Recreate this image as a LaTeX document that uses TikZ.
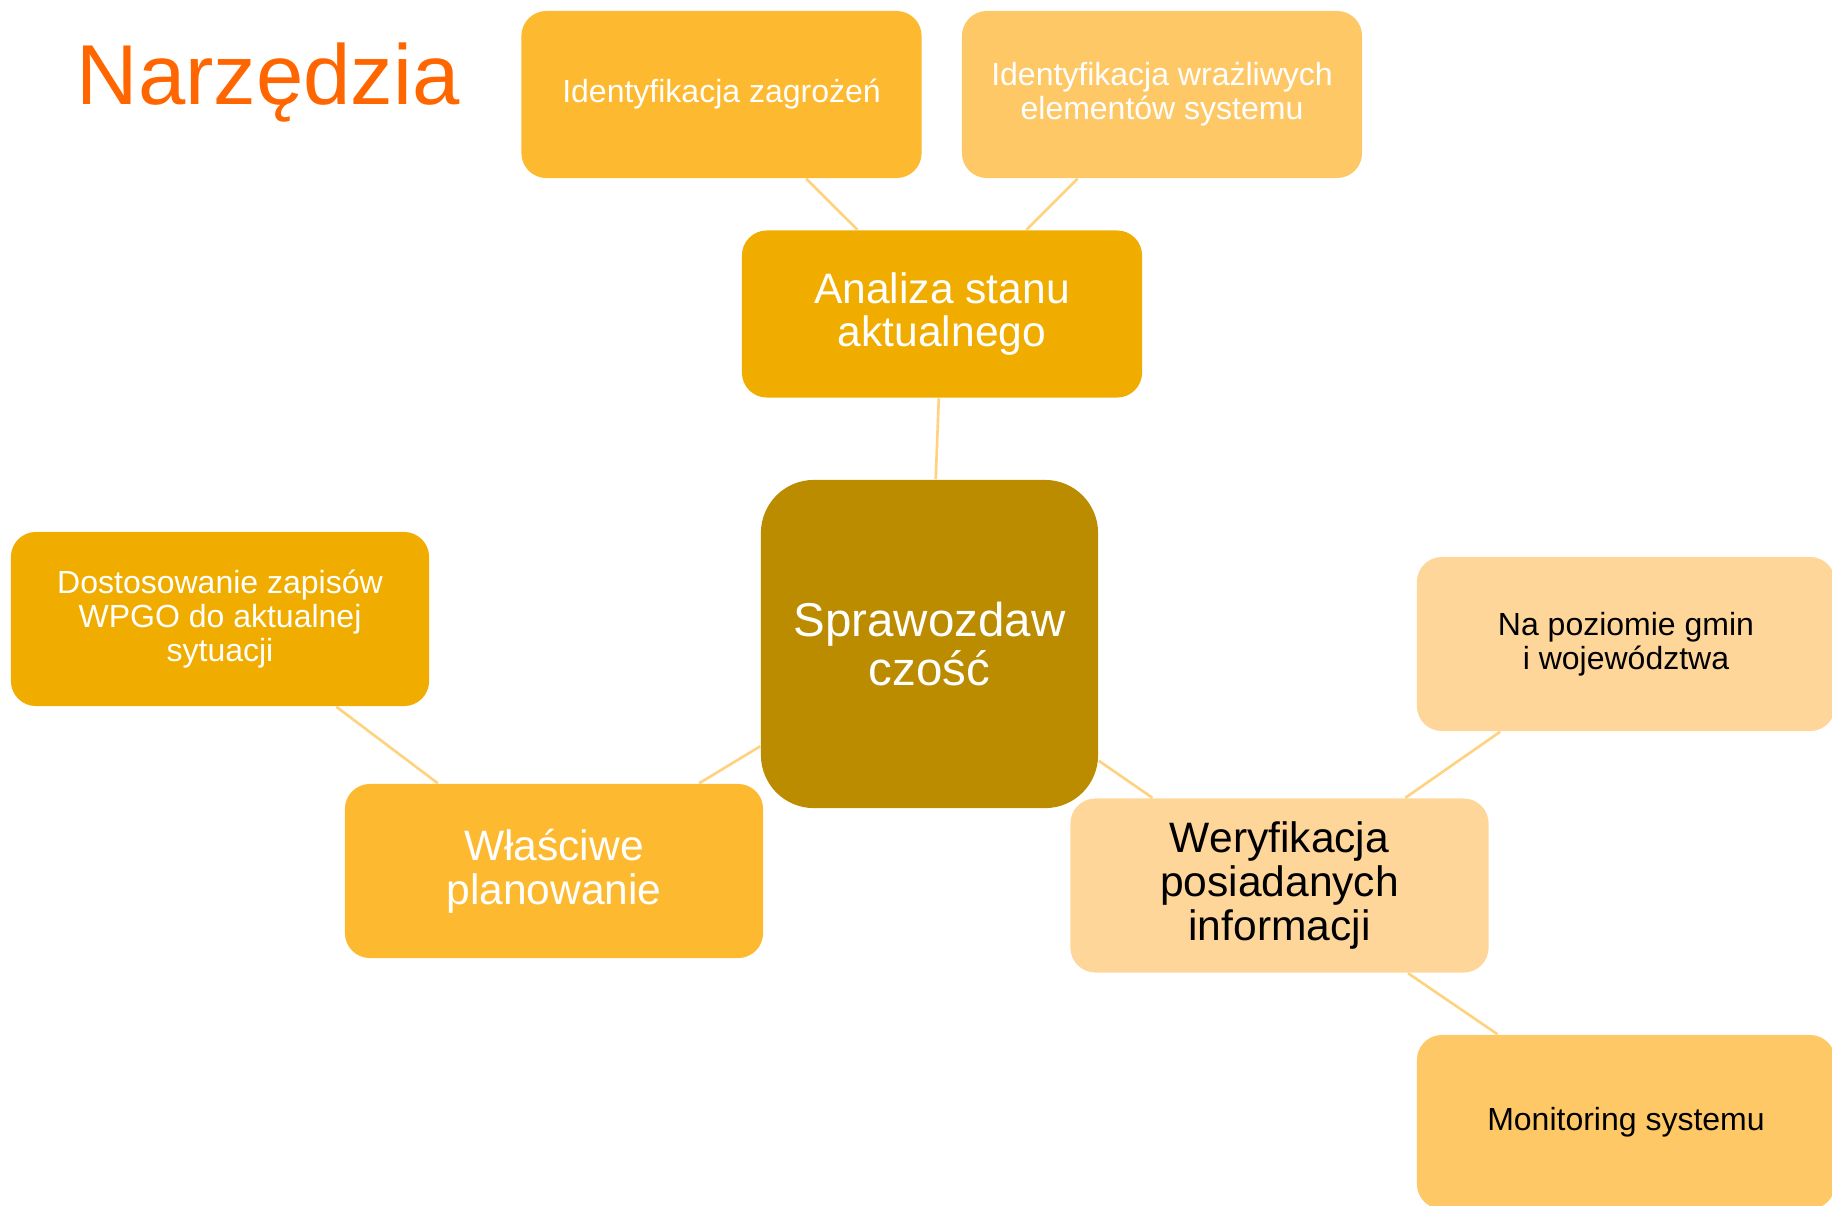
\documentclass[tikz,border=0pt]{standalone}
\usepackage{fontspec}
\setmainfont{Liberation Sans}
\usetikzlibrary{positioning}
\usepackage{xcolor}

\definecolor{titleOrange}{HTML}{FF6600}
\definecolor{boxAmber}{HTML}{FDB92F}
\definecolor{boxLight}{HTML}{FFC866}
\definecolor{boxGold}{HTML}{F0AD00}
\definecolor{boxDark}{HTML}{BB8B00}
\definecolor{boxPale}{HTML}{FFD699}
\definecolor{linkOrange}{HTML}{FFD27F}

\begin{document}
\begin{tikzpicture}[x=0.01cm, y=-0.01cm]

\clip (0,0) rectangle (1832,1205);

\tikzset
  {
    myBox/.style=     {rounded corners=0.25cm, align=center, inner sep=0pt,
                       minimum width=4.18cm, minimum height=1.74cm},
    myTopBox/.style=  {myBox, minimum width=4cm, minimum height=1.67cm},
    smallText/.style= {font=\fontsize{9.1}{9.7}\selectfont},
    midText/.style=   {font=\fontsize{12.1}{12.5}\selectfont},
    myLink/.style=    {linkOrange, line width=0.75pt}
  }

% title
\node[titleOrange, anchor=base west, inner sep=0pt] (title) at (76,104)
{\fontsize{24.2}{27}\selectfont Narzędzia};

% top row
{
\node[myTopBox, fill=boxAmber, text=white, smallText] (zagr) at (721.5,94.5)
{Identyfikacja zagrożeń};
\node[myTopBox, fill=boxLight, text=white, smallText] (wraz) at (1162,94.5)
{Identyfikacja wrażliwych\\elementów systemu};

\node[myTopBox, fill=boxGold, text=white, midText] (analiza) at (942,314)
{Analiza stanu\\aktualnego};
}

% centre
\node[rounded corners=0.53cm, align=center, inner sep=0pt,
      minimum width=3.37cm, minimum height=3.28cm,
      fill=boxDark, text=white, font=\fontsize{13.5}{13.9}\selectfont]
      (sprawo) at (929.5,644) {Sprawozdaw\\czość};

% left side
{
\node[myBox, fill=boxGold, text=white, smallText] (dost) at (220,619)
{Dostosowanie zapisów\\WPGO do aktualnej\\sytuacji};
\node[myBox, fill=boxAmber, text=white, midText] (wlas) at (554,871)
{Właściwe\\planowanie};
}

% right side
{
\node[myBox, fill=boxPale, text=black, midText] (wer) at (1279.5,885.5)
{Weryfikacja\\posiadanych\\informacji};
\node[myBox, fill=boxPale, text=black, smallText] (gmin) at (1626,644)
{Na poziomie gmin\\i województwa};
\node[myBox, fill=boxLight, text=black, smallText] (monit) at (1626,1122)
{Monitoring systemu};
}

% links
\draw[myLink] (zagr) -- (analiza);
\draw[myLink] (wraz) -- (analiza);
\draw[myLink] (analiza) -- (sprawo);
\draw[myLink] (sprawo) -- (wlas);
\draw[myLink] (dost) -- (wlas);
\draw[myLink] (sprawo) -- (wer);
\draw[myLink] (wer) -- (gmin);
\draw[myLink] (wer) -- (monit);

\end{tikzpicture}
\end{document}
